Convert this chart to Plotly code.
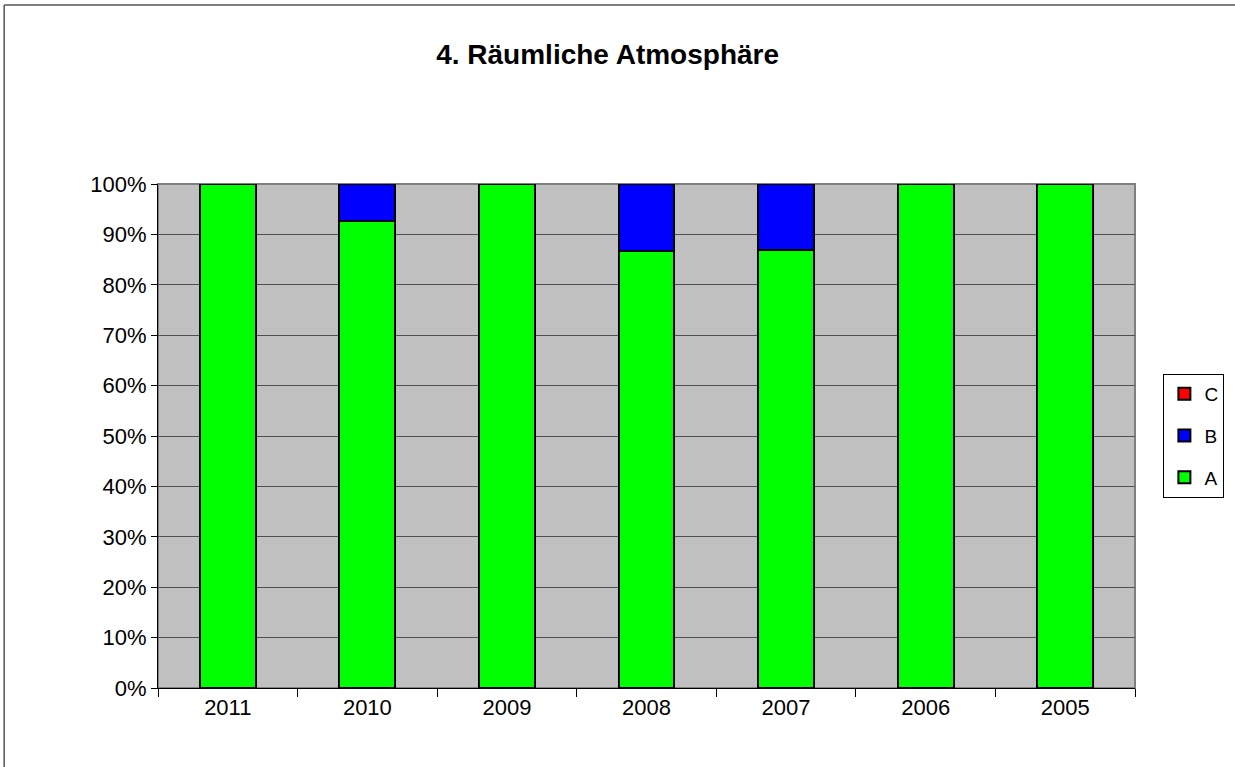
import plotly.graph_objects as go

# --- data ---
years = ["2011", "2010", "2009", "2008", "2007", "2006", "2005"]
share_a = [1.0, 0.927, 1.0, 0.868, 0.870, 1.0, 1.0]
share_b = [0.0, 0.073, 0.0, 0.132, 0.130, 0.0, 0.0]
share_c = [0.0, 0.0, 0.0, 0.0, 0.0, 0.0, 0.0]

series = [("A", share_a, "#00ff00", 3), ("B", share_b, "#0000ff", 2), ("C", share_c, "#ff0000", 1)]

fig = go.Figure()
for name, vals, col, rank in series:
    fig.add_trace(go.Bar(
        x=years, y=vals, name=name, legendgroup=name, legendrank=rank,
        marker=dict(color=col, line=dict(color="black", width=2)),
    ))

# plot area geometry (pixels) for the outer frame
L, R, T, B = 158, 1136, 184, 688
W, H = R - L, B - T
fx0, fy1 = (4 - L) / W, (B - 5) / H          # frame left / top
fx1, fy0 = (1300 - L) / W, (B - 800) / H     # runs off the page

fig.update_layout(
    width=1235, height=767,
    barmode="stack", bargap=0.6,
    paper_bgcolor="white", plot_bgcolor="#c0c0c0",
    font=dict(family="Liberation Sans, Arial", size=22, color="black"),
    title=dict(text="<b>4. Räumliche Atmosphäre</b>", x=0.492, xanchor="center",
               y=0.929, yanchor="middle", font=dict(size=28)),
    margin=dict(l=L, r=1235 - R, t=T, b=767 - B),
    showlegend=True,
    legend=dict(traceorder="grouped", x=1.028, xanchor="left", y=0.5,
                yanchor="middle", bgcolor="white", bordercolor="black", borderwidth=1,
                font=dict(size=19), itemwidth=30, tracegroupgap=14),
    xaxis=dict(showline=True, linecolor="black", linewidth=1, ticks="outside",
               tickson="boundaries", ticklen=8, tickcolor="black",
               showgrid=False, zeroline=False),
    yaxis=dict(range=[0, 1], tickformat=".0%", dtick=0.1, showline=True,
               linecolor="black", linewidth=1, ticks="outside", ticklen=6,
               tickcolor="black", showgrid=True, gridcolor="#505050", gridwidth=1,
               zeroline=False),
    shapes=[
        dict(type="rect", xref="paper", yref="paper", x0=0, x1=1, y0=0, y1=1,
             line=dict(color="#808080", width=2), layer="below"),
        dict(type="line", xref="paper", yref="paper", x0=fx0, x1=fx1, y0=fy1, y1=fy1,
             line=dict(color="#555555", width=1.5)),
        dict(type="line", xref="paper", yref="paper", x0=fx0, x1=fx0, y0=fy0, y1=fy1,
             line=dict(color="#555555", width=1.5)),
    ],
)

fig.write_html("out.html", config={"displayModeBar": False},
               post_script="document.body.style.margin='0px';")
